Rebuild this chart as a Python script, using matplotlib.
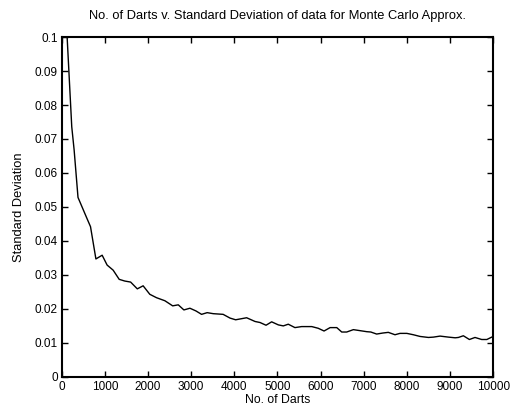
#!/usr/bin/env python
# -*- coding: utf-8 -*-
"""Darts count vs. standard deviation of the Monte Carlo pi estimate."""

import matplotlib
matplotlib.use("Agg")
import matplotlib.pyplot as plt

# values
n_darts = [
    100, 230, 285, 375, 580, 665, 790, 935, 1050, 1190,
    1330, 1460, 1595, 1750, 1885, 2040, 2195, 2390, 2570, 2700,
    2830, 2970, 3110, 3240, 3370, 3510, 3740, 3900, 4030, 4285,
    4480, 4595, 4735, 4865, 5020, 5135, 5250, 5405, 5560, 5795,
    5945, 6080, 6220, 6375, 6490, 6605, 6760, 6915, 7070, 7165,
    7300, 7440, 7570, 7725, 7840, 8000, 8150, 8305, 8500, 8615,
    8770, 8965, 9120, 9195, 9310, 9450, 9580, 9735, 9855, 10000,
]
std_dev = [
    0.1056, 0.0736, 0.0668, 0.0528, 0.0467, 0.0442, 0.0347, 0.0358, 0.0329, 0.0314,
    0.0287, 0.0282, 0.0279, 0.0259, 0.0268, 0.0243, 0.0233, 0.0224, 0.0209, 0.0212,
    0.0197, 0.0202, 0.0194, 0.0184, 0.0189, 0.0186, 0.0184, 0.0173, 0.0168, 0.0174,
    0.0163, 0.0160, 0.0152, 0.0162, 0.0153, 0.0150, 0.0155, 0.0145, 0.0148, 0.0148,
    0.0143, 0.0135, 0.0145, 0.0145, 0.0132, 0.0132, 0.0139, 0.0136, 0.0133, 0.0132,
    0.0126, 0.0129, 0.0131, 0.0124, 0.0128, 0.0128, 0.0124, 0.0119, 0.0116, 0.0117,
    0.0120, 0.0117, 0.0115, 0.0116, 0.0121, 0.0110, 0.0116, 0.0110, 0.0110, 0.0119,
]
x_ticks = [0, 1000, 2000, 3000, 4000, 5000, 6000, 7000, 8000, 9000, 10000]
y_ticks = [0, 0.01, 0.02, 0.03, 0.04, 0.05, 0.06, 0.07, 0.08, 0.09, 0.1]
y_labels = ["0", "0.01", "0.02", "0.03", "0.04", "0.05", "0.06", "0.07", "0.08", "0.09", "0.1"]

plt.rcParams["font.family"] = ["Liberation Sans", "DejaVu Sans"]
plt.rcParams["font.size"] = 8.5
NARROW = ["Liberation Sans Narrow", "Liberation Sans", "DejaVu Sans"]

fig = plt.figure(figsize=(5.11, 4.07), dpi=100)
ax = fig.add_axes([0.121, 0.074, 0.844, 0.835])

ax.plot(n_darts, std_dev, color="black", lw=1.0)

ax.set_xlim(0, 10000)
ax.set_ylim(0, 0.1)
ax.set_xticks(x_ticks)
ax.set_xticklabels([str(t) for t in x_ticks])
ax.set_yticks(y_ticks)
ax.set_yticklabels(y_labels)
ax.tick_params(direction="in", length=4, width=1, top=True, right=True, pad=3)
for sp in ax.spines.values():
    sp.set_linewidth(1.5)

ax.set_xlabel("No. of Darts", labelpad=1, fontsize=8.8)
ax.set_ylabel("Standard Deviation", family=NARROW, fontsize=9.3)
ax.yaxis.set_label_coords(-0.085, 0.5)
ax.set_title("No. of Darts v. Standard Deviation of data for Monte Carlo Approx.",
             family=NARROW, fontsize=9.3, pad=13)

fig.savefig("out.png", dpi=100)
